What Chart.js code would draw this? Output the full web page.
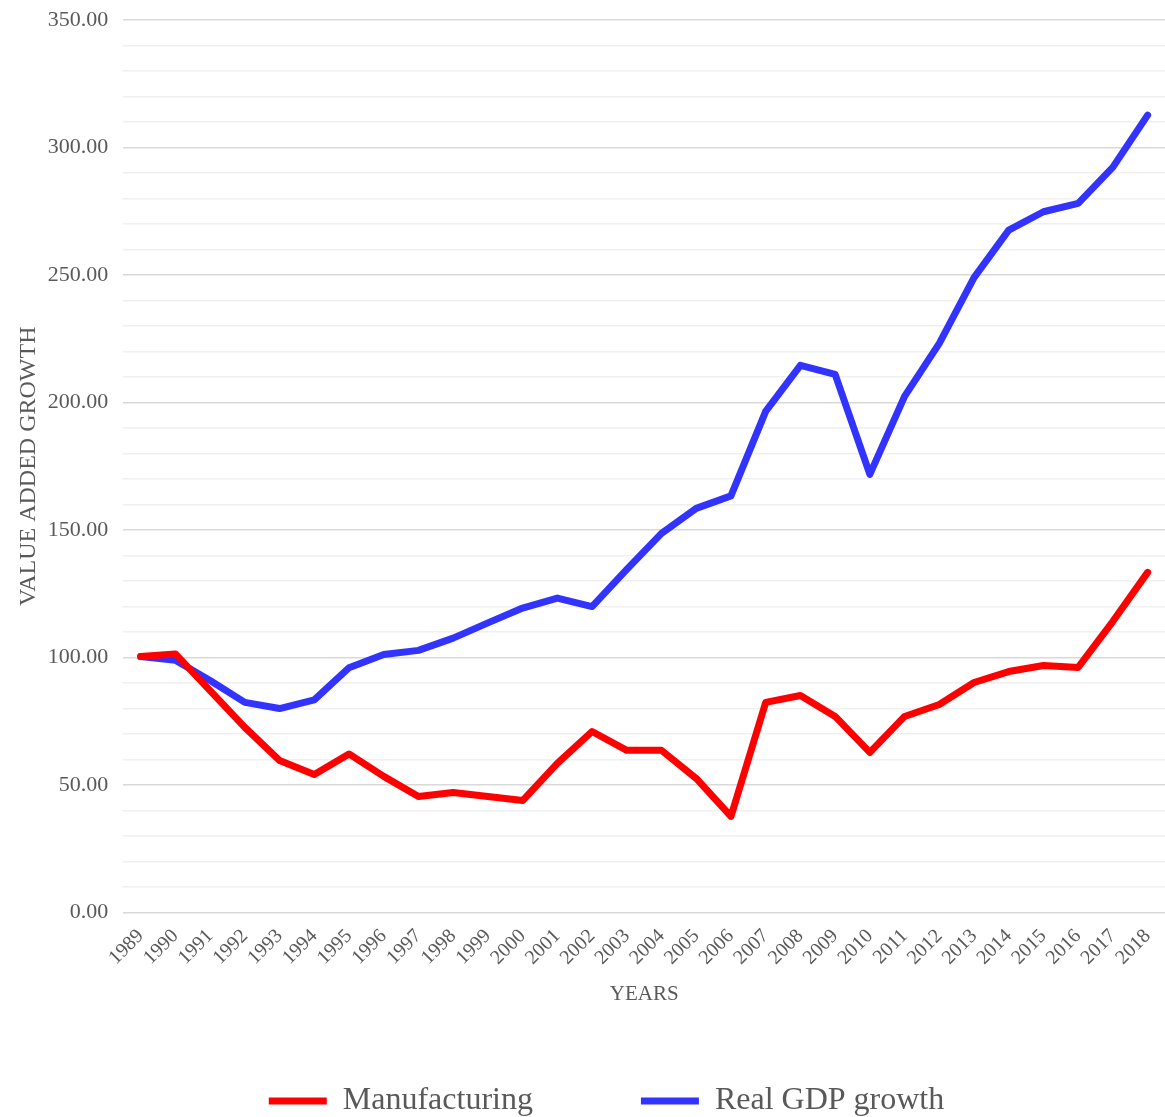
<!DOCTYPE html>
<html>
<head>
<meta charset="utf-8">
<script src="https://cdn.jsdelivr.net/npm/chart.js@4/dist/chart.umd.min.js"></script>
<style>
  html, body { margin: 0; padding: 0; background: #fff; }
  #wrap { width: 1165px; height: 1117px; }
</style>
</head>
<body>
<div id="wrap"><canvas id="growth_chart"></canvas></div>
<script>
const years = ['1989', '1990', '1991', '1992', '1993', '1994', '1995', '1996', '1997', '1998',
  '1999', '2000', '2001', '2002', '2003', '2004', '2005', '2006', '2007', '2008',
  '2009', '2010', '2011', '2012', '2013', '2014', '2015', '2016', '2017', '2018'];

const manufacturing = [100.4, 101.4, 87.0, 72.6, 59.6, 54.1, 62.2, 53.4, 45.5, 47.1,
  45.5, 43.9, 58.5, 71.0, 63.6, 63.6, 52.6, 37.7, 82.4, 85.1,
  76.9, 62.8, 76.9, 81.6, 90.2, 94.5, 96.9, 96.1, 114.2, 133.4];

const real_gdp = [100.4, 98.9, 91.0, 82.4, 80.0, 83.4, 96.0, 101.2, 102.8, 107.6,
  113.6, 119.4, 123.3, 120.0, 134.6, 148.7, 158.5, 163.4, 196.5, 214.6,
  211.0, 171.8, 202.4, 223.2, 249.0, 267.6, 274.8, 278.1, 292.3, 312.7];

const y_min = 0;
const y_max = 350;
const y_step = 10;
const y_label_every = 50;

const text_color = '#595959';
const serif = "'Liberation Serif', 'Times New Roman', serif";

// nudge the legend a bit right and down, like the original
const legend_shift = {
  id: 'legend_shift',
  afterLayout(chart) {
    if (chart.legend) {
      chart.legend.left += 24;
      chart.legend.right += 24;
      chart.legend.top += 10;
      chart.legend.bottom += 10;
    }
  }
};

let ctx = document.getElementById('growth_chart').getContext('2d');
let growth_chart = new Chart(ctx, {
  type: 'line',
  data: {
    labels: years,
    datasets: [{
        label: 'Manufacturing',
        data: manufacturing,
        borderColor: '#ff0000',
        backgroundColor: '#ff0000',
        borderWidth: 7,
        borderCapStyle: 'round',
        borderJoinStyle: 'round',
        pointRadius: 0,
        tension: 0
      },
      {
        label: 'Real GDP growth',
        data: real_gdp,
        borderColor: '#3333ff',
        backgroundColor: '#3333ff',
        borderWidth: 7,
        borderCapStyle: 'round',
        borderJoinStyle: 'round',
        pointRadius: 0,
        tension: 0
      }
    ]
  },
  plugins: [legend_shift],
  options: {
    responsive: true,
    maintainAspectRatio: false,
    animation: false,
    layout: {
      padding: { top: 0, right: 0, left: 0, bottom: 0 }
    },
    scales: {
      y: {
        min: y_min,
        max: y_max,
        border: { display: false },
        afterFit: (scale) => { scale.paddingTop = 20; },
        grid: {
          drawTicks: false,
          lineWidth: 1.5,
          color: (c) => (c.tick && c.tick.value % y_label_every === 0) ? '#d9d9d9' : '#f0f0f0'
        },
        ticks: {
          stepSize: y_step,
          autoSkip: false,
          padding: 15,
          color: text_color,
          font: { family: serif, size: 22 },
          callback: (v) => v % y_label_every === 0 ? v.toFixed(2) : ''
        },
        title: {
          display: true,
          text: 'VALUE ADDED GROWTH',
          color: text_color,
          font: { family: serif, size: 24 },
          padding: { top: 14, bottom: -10 }
        }
      },
      x: {
        offset: true,
        border: { display: false },
        afterFit: (scale) => { scale.paddingRight = 0; },
        grid: { display: false },
        ticks: {
          autoSkip: false,
          maxRotation: 45,
          minRotation: 45,
          padding: 4,
          color: text_color,
          font: { family: serif, size: 20 }
        },
        title: {
          display: true,
          text: 'YEARS',
          color: text_color,
          font: { family: serif, size: 21 },
          padding: { top: 8, bottom: 64 }
        }
      }
    },
    plugins: {
      legend: {
        position: 'bottom',
        labels: {
          usePointStyle: true,
          pointStyle: 'line',
          pointStyleWidth: 58,
          boxHeight: 10,
          padding: 4,
          color: text_color,
          font: { family: serif, size: 32 },
          generateLabels: (chart) => {
            const items = Chart.defaults.plugins.legend.labels.generateLabels(chart);
            items[0].text = items[0].text + '\u00a0'.repeat(13);
            return items;
          }
        }
      },
      tooltip: { enabled: false }
    }
  }
});
</script>
</body>
</html>
